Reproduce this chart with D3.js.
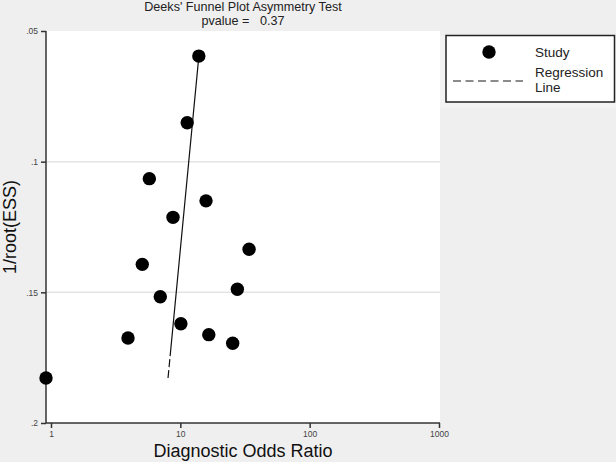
<!DOCTYPE html>
<html>
<head>
<meta charset="utf-8">
<script src="https://cdn.jsdelivr.net/npm/d3@7"></script>
<style>
  body { margin: 0; background: #efefef; }
  svg text { font-family: "Liberation Sans", Arial, sans-serif; }
</style>
</head>
<body>
<div id="chart"></div>
<script>
// Deeks' funnel plot data
var dor = [13.9, 11.3, 5.76, 15.8, 8.78, 34.0, 5.08, 27.6, 7.0, 10.1, 3.94, 16.6, 25.4, 0.915];
var invRootEss = [0.0596, 0.0851, 0.1065, 0.1150, 0.1213, 0.1335, 0.1393, 0.1488, 0.1517, 0.1620, 0.1675, 0.1662, 0.1695, 0.1828];
// regression: ln(DOR) = a + b * 1/root(ESS)
var regCoef = [2.898, -4.455];
var xTicks = [1, 10, 100, 1000];
var yTicks = [0.05, 0.1, 0.15, 0.2];
var yGrid = [0.1, 0.15];
var pvalue = "0.37";

var width = 616, height = 462;
var pLeft = 46, pRight = 440, pTop = 31, pBottom = 423;

var svg = d3.select("#chart").append("svg")
    .attr("width", width)
    .attr("height", height);

svg.append("rect").attr("width", width).attr("height", height).attr("fill", "#efefef");
svg.append("rect")
   .attr("x", pLeft).attr("y", pTop)
   .attr("width", pRight - pLeft).attr("height", pBottom - pTop)
   .attr("fill", "#fff");

var x = d3.scaleLog().domain([0.915, 1018]).range([pLeft, pRight]);
var y = d3.scaleLinear().domain([0.05, 0.2]).range([pTop, pBottom]);

// gridlines
svg.selectAll(".grid").data(yGrid).enter().append("line")
   .attr("x1", pLeft).attr("x2", pRight)
   .attr("y1", d => y(d)).attr("y2", d => y(d))
   .attr("stroke", "#e3e3e3").attr("stroke-width", 1.5);

// axes
var xAxis = d3.axisBottom(x).tickValues(xTicks).tickFormat(d3.format("d")).tickSize(5).tickPadding(3);
var yAxis = d3.axisLeft(y).tickValues(yTicks).tickFormat(d => String(d).replace(/^0/, "")).tickSize(5).tickPadding(3);

var gx = svg.append("g").attr("transform", "translate(0," + pBottom + ")").call(xAxis);
var gy = svg.append("g").attr("transform", "translate(" + pLeft + ",0)").call(yAxis);
gx.select(".domain").attr("d", "M" + pLeft + ",0H" + pRight);
gy.select(".domain").attr("d", "M0," + pTop + "V" + pBottom);
[gx, gy].forEach(function(g) {
    g.selectAll(".domain, .tick line").attr("stroke", "#333").attr("stroke-width", 1.5);
    g.selectAll(".tick text").attr("fill", "#444").style("font-size", "8.5px");
});

// regression line
var yExt = d3.extent(invRootEss);
var regPts = [yExt[1], yExt[0]].map(v => [x(Math.exp(regCoef[0] + regCoef[1] * v)), y(v)]);
svg.append("path")
   .attr("d", d3.line()(regPts))
   .attr("fill", "none")
   .attr("stroke", "#111")
   .attr("stroke-width", 1.2)
   .attr("stroke-dasharray", "8,3,8,3,1000");

// studies
svg.selectAll(".dot").data(dor).enter().append("circle")
   .attr("cx", d => x(d))
   .attr("cy", (d, i) => y(invRootEss[i]))
   .attr("r", 6.7)
   .attr("fill", "#000");

// titles
svg.append("text").attr("x", (pLeft + pRight) / 2).attr("y", 11)
   .attr("text-anchor", "middle").style("font-size", "12.6px").attr("fill", "#222")
   .text("Deeks' Funnel Plot Asymmetry Test");
svg.append("text").attr("x", (pLeft + pRight) / 2).attr("y", 24.5)
   .attr("text-anchor", "middle").style("font-size", "12.6px").attr("fill", "#222")
   .attr("xml:space", "preserve")
   .text("pvalue =   " + pvalue);

svg.append("text").attr("x", (pLeft + pRight) / 2).attr("y", 457)
   .attr("text-anchor", "middle").style("font-size", "18px").attr("fill", "#111")
   .text("Diagnostic Odds Ratio");
svg.append("text")
   .attr("transform", "translate(16," + (pTop + pBottom) / 2 + ") rotate(-90)")
   .attr("text-anchor", "middle").style("font-size", "18px").attr("fill", "#111")
   .text("1/root(ESS)");

// legend
var lg = svg.append("g");
lg.append("rect").attr("x", 440).attr("y", 36).attr("width", 176).attr("height", 72).attr("fill", "#f3f3f3");
lg.append("rect").attr("x", 446).attr("y", 35.5).attr("width", 168.5).attr("height", 66.5)
  .attr("fill", "#fff").attr("stroke", "#222").attr("stroke-width", 1.5);
lg.append("circle").attr("cx", 489).attr("cy", 52).attr("r", 6.7).attr("fill", "#000");
lg.append("line").attr("x1", 453).attr("x2", 523).attr("y1", 81).attr("y2", 81)
  .attr("stroke", "#666").attr("stroke-width", 1.3).attr("stroke-dasharray", "8,4.5");
lg.append("text").attr("x", 535).attr("y", 57).style("font-size", "13.5px").attr("fill", "#222").text("Study");
lg.append("text").attr("x", 535).attr("y", 77).style("font-size", "13.5px").attr("fill", "#222").text("Regression");
lg.append("text").attr("x", 535).attr("y", 92).style("font-size", "13.5px").attr("fill", "#222").text("Line");
</script>
</body>
</html>
